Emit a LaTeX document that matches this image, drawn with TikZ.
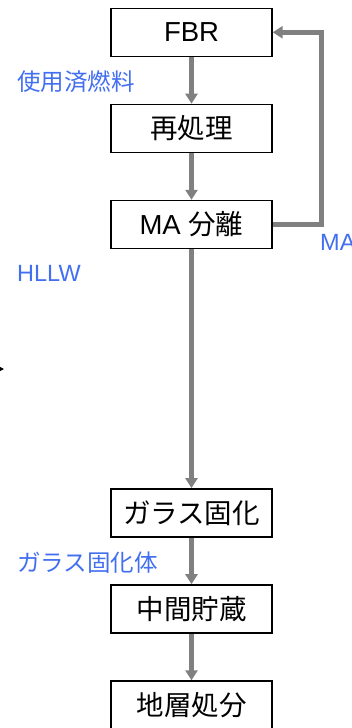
\documentclass[tikz,border=0pt]{standalone}
\usepackage{fontspec}
\setmainfont{Liberation Sans}
\newfontfamily\cjk{Noto Sans CJK JP}
\usetikzlibrary{arrows.meta}
\definecolor{lblblue}{RGB}{66,110,240}
\definecolor{flowgray}{RGB}{128,128,128}
\tikzset{
  procbox/.style={draw=black, line width=1.4pt, fill=white, minimum width=161pt, minimum height=48pt, inner sep=0pt, font=\fontsize{27.5}{30}\selectfont},
  flowarrow/.style={draw=flowgray, line width=5pt, -{Triangle[width=12pt,length=10pt]}},
  lbl/.style={text=lblblue, anchor=west, inner sep=0pt, font=\fontsize{23.5}{26}\selectfont},
}
\begin{document}
\begin{tikzpicture}[x=1pt,y=-1pt]
\useasboundingbox (0,0) rectangle (352,728);
\node[procbox] (fbr) at (191.5,32.3) {FBR};
\node[procbox] (rep) at (191.5,128.4) {\cjk 再処理};
\node[procbox] (ma) at (191.5,224.5) {MA {\cjk 分離}};
\node[procbox] (glass) at (191.5,512.8) {\cjk ガラス固化};
\node[procbox] (store) at (191.5,608.9) {\cjk 中間貯蔵};
\node[procbox] (disp) at (191.5,705.0) {\cjk 地層処分};
\draw[flowarrow] (fbr) -- (rep);
\draw[flowarrow] (rep) -- (ma);
\draw[flowarrow] (ma) -- (glass);
\draw[flowarrow] (glass) -- (store);
\draw[flowarrow] (store) -- (disp);
\coordinate (c1) at (321,224.5);
\coordinate (c2) at (321,32.3);
\draw[flowarrow] (ma.east) -- (c1) -- (c2) -- (fbr.east);
\node[lbl] (l1) at (17,82) {\cjk 使用済燃料};
\node[lbl] (l2) at (17,273) {HLLW};
\node[lbl] (l3) at (320,242) {MA};
\node[lbl] (l4) at (17,563) {\cjk ガラス固化体};
\coordinate (in0) at (-30,369);
\coordinate (in1) at (4,369);
\begin{scope}
\clip (0,0) rectangle (352,728);
\draw[black, line width=1pt, -{Triangle[width=9pt,length=9pt]}] (in0) -- (in1);
\end{scope}
\end{tikzpicture}
\end{document}
